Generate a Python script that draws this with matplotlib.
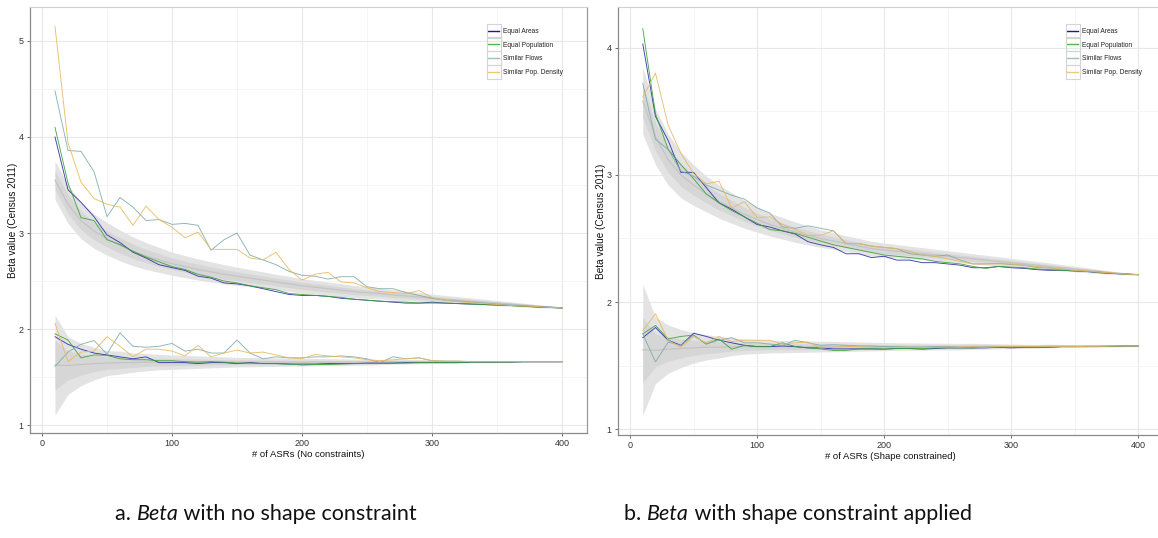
import numpy as np
import matplotlib
matplotlib.use("Agg")
import matplotlib.pyplot as plt
from matplotlib.patches import Rectangle
from matplotlib.ticker import MultipleLocator

plt.rcParams['font.family'] = ['Liberation Sans', 'DejaVu Sans']

# ---------------- data ----------------
n_asrs = list(range(10, 401, 10))
series_names = ["Equal Areas", "Equal Population", "Similar Flows", "Similar Pop. Density"]

# Panel a (no constraints) - upper group
a_up_areas = [4.00, 3.45, 3.32, 3.17, 2.98, 2.90, 2.80, 2.74, 2.67, 2.64,
              2.61, 2.55, 2.53, 2.48, 2.47, 2.45, 2.42, 2.39, 2.36, 2.35,
              2.35, 2.34, 2.32, 2.31, 2.30, 2.29, 2.28, 2.27, 2.27, 2.28,
              2.27, 2.265, 2.26, 2.255, 2.25, 2.245, 2.24, 2.23, 2.225, 2.22]
a_up_pop = [4.10, 3.52, 3.16, 3.13, 2.93, 2.88, 2.81, 2.75, 2.70, 2.65,
            2.62, 2.57, 2.54, 2.50, 2.48, 2.45, 2.43, 2.41, 2.37, 2.36,
            2.35, 2.34, 2.33, 2.31, 2.30, 2.29, 2.285, 2.28, 2.27, 2.27,
            2.27, 2.265, 2.26, 2.255, 2.25, 2.245, 2.235, 2.23, 2.225, 2.22]
a_up_flows = [4.48, 3.86, 3.85, 3.64, 3.17, 3.37, 3.27, 3.13, 3.14, 3.09,
              3.10, 3.08, 2.82, 2.93, 3.00, 2.77, 2.72, 2.67, 2.60, 2.56,
              2.55, 2.52, 2.545, 2.545, 2.44, 2.42, 2.42, 2.38, 2.35, 2.32,
              2.30, 2.29, 2.28, 2.27, 2.26, 2.25, 2.245, 2.235, 2.23, 2.22]
a_up_dens = [5.15, 3.94, 3.53, 3.36, 3.30, 3.27, 3.08, 3.28, 3.14, 3.06,
             2.95, 3.01, 2.83, 2.83, 2.83, 2.74, 2.72, 2.80, 2.62, 2.51,
             2.57, 2.59, 2.49, 2.48, 2.43, 2.39, 2.38, 2.37, 2.40, 2.33,
             2.30, 2.285, 2.275, 2.265, 2.255, 2.245, 2.24, 2.235, 2.225, 2.22]
# Panel a - lower group
a_lo_areas = [1.92, 1.84, 1.79, 1.75, 1.73, 1.71, 1.69, 1.71, 1.65, 1.65,
              1.65, 1.64, 1.65, 1.65, 1.64, 1.65, 1.64, 1.64, 1.635, 1.635,
              1.635, 1.64, 1.64, 1.64, 1.645, 1.645, 1.645, 1.65, 1.65, 1.65,
              1.65, 1.65, 1.655, 1.655, 1.655, 1.655, 1.66, 1.66, 1.66, 1.66]
a_lo_pop = [1.95, 1.885, 1.70, 1.73, 1.725, 1.69, 1.68, 1.68, 1.67, 1.67,
            1.66, 1.655, 1.66, 1.655, 1.645, 1.645, 1.64, 1.64, 1.635, 1.625,
            1.63, 1.63, 1.635, 1.64, 1.64, 1.64, 1.645, 1.645, 1.65, 1.65,
            1.65, 1.65, 1.655, 1.655, 1.655, 1.655, 1.66, 1.66, 1.66, 1.66]
a_lo_flows = [1.61, 1.76, 1.84, 1.88, 1.74, 1.96, 1.82, 1.81, 1.82, 1.85,
              1.77, 1.79, 1.75, 1.75, 1.885, 1.75, 1.69, 1.71, 1.70, 1.70,
              1.71, 1.71, 1.72, 1.71, 1.69, 1.65, 1.71, 1.69, 1.70, 1.67,
              1.665, 1.665, 1.66, 1.66, 1.66, 1.66, 1.66, 1.66, 1.66, 1.66]
a_lo_dens = [2.06, 1.66, 1.76, 1.77, 1.92, 1.82, 1.71, 1.79, 1.79, 1.77,
             1.72, 1.83, 1.71, 1.75, 1.78, 1.75, 1.76, 1.73, 1.70, 1.69,
             1.735, 1.72, 1.71, 1.70, 1.68, 1.67, 1.68, 1.69, 1.70, 1.67,
             1.665, 1.665, 1.66, 1.66, 1.66, 1.66, 1.66, 1.66, 1.66, 1.66]
# Panel a - reference ribbons (centre, half widths)
a_up_mid = [3.55, 3.30, 3.13, 3.02, 2.94, 2.87, 2.81, 2.76, 2.72, 2.68,
            2.65, 2.62, 2.595, 2.57, 2.55, 2.53, 2.51, 2.49, 2.47, 2.45,
            2.435, 2.42, 2.405, 2.39, 2.38, 2.37, 2.355, 2.345, 2.335, 2.32,
            2.31, 2.30, 2.29, 2.28, 2.27, 2.26, 2.25, 2.24, 2.23, 2.22]
a_up_hw = [0.20, 0.20, 0.19, 0.18, 0.17, 0.16, 0.15, 0.14, 0.13, 0.12,
           0.115, 0.11, 0.105, 0.10, 0.095, 0.09, 0.085, 0.08, 0.078, 0.075,
           0.072, 0.07, 0.067, 0.064, 0.06, 0.057, 0.054, 0.05, 0.047, 0.044,
           0.04, 0.037, 0.034, 0.03, 0.027, 0.024, 0.02, 0.016, 0.012, 0.008]
a_lo_mid = [1.625, 1.62, 1.63, 1.64, 1.645, 1.65, 1.65, 1.655, 1.655, 1.655,
            1.655, 1.655, 1.655, 1.655, 1.655, 1.655, 1.655, 1.655, 1.655, 1.655,
            1.655, 1.655, 1.655, 1.655, 1.655, 1.655, 1.66, 1.66, 1.66, 1.66,
            1.66, 1.66, 1.66, 1.66, 1.66, 1.66, 1.66, 1.66, 1.66, 1.66]
a_lo_hw = [0.52, 0.30, 0.22, 0.17, 0.13, 0.12, 0.10, 0.09, 0.08, 0.075,
           0.07, 0.065, 0.06, 0.055, 0.05, 0.048, 0.046, 0.044, 0.042, 0.04,
           0.038, 0.036, 0.034, 0.032, 0.03, 0.028, 0.026, 0.024, 0.022, 0.02,
           0.018, 0.016, 0.014, 0.012, 0.011, 0.01, 0.009, 0.008, 0.007, 0.006]

# Panel b (shape constrained) - upper group
b_up_areas = [4.03, 3.46, 3.27, 3.02, 3.02, 2.90, 2.78, 2.73, 2.67, 2.61,
              2.59, 2.56, 2.535, 2.475, 2.45, 2.43, 2.38, 2.38, 2.35, 2.36,
              2.33, 2.33, 2.31, 2.31, 2.30, 2.29, 2.27, 2.27, 2.28, 2.27,
              2.265, 2.255, 2.25, 2.25, 2.245, 2.24, 2.23, 2.225, 2.22, 2.216]
b_up_pop = [4.15, 3.48, 3.20, 3.08, 2.97, 2.85, 2.78, 2.72, 2.67, 2.62,
            2.57, 2.56, 2.54, 2.51, 2.48, 2.45, 2.43, 2.41, 2.39, 2.37,
            2.36, 2.35, 2.34, 2.32, 2.31, 2.30, 2.28, 2.265, 2.28, 2.275,
            2.27, 2.26, 2.255, 2.25, 2.245, 2.24, 2.235, 2.225, 2.22, 2.216]
b_up_flows = [3.72, 3.28, 3.20, 3.03, 2.99, 2.92, 2.88, 2.84, 2.81, 2.74,
              2.70, 2.59, 2.58, 2.60, 2.58, 2.56, 2.46, 2.46, 2.44, 2.43,
              2.42, 2.38, 2.37, 2.36, 2.37, 2.33, 2.30, 2.30, 2.305, 2.295,
              2.29, 2.273, 2.268, 2.26, 2.247, 2.24, 2.235, 2.227, 2.22, 2.216]
b_up_dens = [3.61, 3.80, 3.39, 3.17, 3.01, 2.93, 2.95, 2.74, 2.79, 2.665,
             2.67, 2.61, 2.57, 2.525, 2.525, 2.56, 2.46, 2.46, 2.44, 2.43,
             2.42, 2.40, 2.37, 2.36, 2.34, 2.32, 2.30, 2.30, 2.30, 2.30,
             2.29, 2.28, 2.27, 2.26, 2.25, 2.245, 2.235, 2.23, 2.22, 2.216]
# Panel b - lower group
b_lo_areas = [1.72, 1.80, 1.70, 1.66, 1.755, 1.73, 1.70, 1.68, 1.66, 1.65,
              1.65, 1.655, 1.65, 1.64, 1.64, 1.632, 1.632, 1.632, 1.632, 1.63,
              1.635, 1.635, 1.63, 1.635, 1.64, 1.64, 1.64, 1.64, 1.645, 1.64,
              1.645, 1.645, 1.645, 1.65, 1.65, 1.65, 1.65, 1.652, 1.655, 1.655]
b_lo_pop = [1.75, 1.816, 1.71, 1.73, 1.74, 1.67, 1.71, 1.63, 1.66, 1.65,
            1.65, 1.68, 1.65, 1.64, 1.632, 1.62, 1.62, 1.632, 1.632, 1.632,
            1.635, 1.635, 1.635, 1.64, 1.64, 1.64, 1.64, 1.645, 1.645, 1.645,
            1.645, 1.65, 1.645, 1.65, 1.65, 1.65, 1.652, 1.652, 1.655, 1.655]
b_lo_flows = [1.75, 1.53, 1.685, 1.66, 1.74, 1.67, 1.70, 1.72, 1.68, 1.68,
              1.67, 1.66, 1.70, 1.68, 1.66, 1.665, 1.66, 1.655, 1.655, 1.65,
              1.65, 1.645, 1.645, 1.65, 1.65, 1.645, 1.645, 1.645, 1.65, 1.65,
              1.65, 1.65, 1.65, 1.65, 1.65, 1.652, 1.652, 1.655, 1.655, 1.655]
b_lo_dens = [1.776, 1.907, 1.70, 1.645, 1.73, 1.68, 1.73, 1.69, 1.70, 1.70,
             1.70, 1.67, 1.68, 1.685, 1.64, 1.645, 1.65, 1.65, 1.645, 1.64,
             1.645, 1.645, 1.64, 1.645, 1.645, 1.645, 1.65, 1.645, 1.65, 1.65,
             1.65, 1.65, 1.65, 1.65, 1.65, 1.652, 1.652, 1.655, 1.655, 1.655]
# Panel b - reference ribbons
b_up_mid = [3.58, 3.30, 3.12, 3.00, 2.92, 2.85, 2.79, 2.74, 2.69, 2.65,
            2.61, 2.58, 2.55, 2.525, 2.50, 2.48, 2.46, 2.44, 2.42, 2.41,
            2.40, 2.39, 2.38, 2.37, 2.36, 2.35, 2.34, 2.33, 2.32, 2.31,
            2.30, 2.29, 2.28, 2.27, 2.26, 2.25, 2.24, 2.23, 2.222, 2.216]
b_up_hw = [0.26, 0.22, 0.20, 0.18, 0.16, 0.14, 0.13, 0.12, 0.11, 0.10,
           0.09, 0.085, 0.08, 0.075, 0.07, 0.065, 0.062, 0.06, 0.058, 0.055,
           0.052, 0.05, 0.048, 0.046, 0.044, 0.042, 0.04, 0.038, 0.036, 0.034,
           0.032, 0.03, 0.028, 0.025, 0.022, 0.02, 0.016, 0.012, 0.008, 0.005]
b_lo_mid = [1.625, 1.62, 1.63, 1.635, 1.64, 1.645, 1.645, 1.65, 1.65, 1.65,
            1.65, 1.65, 1.65, 1.65, 1.65, 1.65, 1.65, 1.65, 1.65, 1.65,
            1.65, 1.65, 1.65, 1.65, 1.65, 1.65, 1.652, 1.652, 1.652, 1.652,
            1.652, 1.652, 1.655, 1.655, 1.655, 1.655, 1.655, 1.655, 1.655, 1.655]
b_lo_hw = [0.515, 0.26, 0.19, 0.15, 0.12, 0.10, 0.085, 0.07, 0.06, 0.055,
           0.05, 0.048, 0.046, 0.044, 0.042, 0.04, 0.038, 0.036, 0.034, 0.032,
           0.03, 0.029, 0.028, 0.027, 0.026, 0.025, 0.024, 0.022, 0.02, 0.018,
           0.016, 0.015, 0.014, 0.012, 0.011, 0.01, 0.009, 0.008, 0.007, 0.005]

x_labels = ["# of ASRs (No constraints)", "# of ASRs (Shape constrained)"]
y_label = "Beta value (Census 2011)"
captions = [("a. ", "Beta", " with no shape constraint"),
            ("b. ", "Beta", " with shape constraint applied")]

# ---------------- style ----------------
line_colors = ["#2a2aa8", "#38a238", "#80aaac", "#e8b95c"]
legend_colors = ["#1c1c80", "#4db84d", "#9fc0c2", "#eec878"]

W, H = 1158, 538
fig = plt.figure(figsize=(W / 100, H / 100), dpi=100)
fig.patch.set_facecolor("white")

axes_px = [(29.65, 7, 557.7, 426), (618.0, 7, 545.0, 428)]
ylims = [(0.917, 5.354), (0.955, 4.32)]

panels = [
    dict(up=[a_up_areas, a_up_pop, a_up_flows, a_up_dens],
         lo=[a_lo_areas, a_lo_pop, a_lo_flows, a_lo_dens],
         ribbons=[(a_up_mid, a_up_hw), (a_lo_mid, a_lo_hw)], yt=[1, 2, 3, 4, 5]),
    dict(up=[b_up_areas, b_up_pop, b_up_flows, b_up_dens],
         lo=[b_lo_areas, b_lo_pop, b_lo_flows, b_lo_dens],
         ribbons=[(b_up_mid, b_up_hw), (b_lo_mid, b_lo_hw)], yt=[1, 2, 3, 4]),
]

x = np.array(n_asrs)
legs = []
axs = []
for i, (p, (l, t, w, h)) in enumerate(zip(panels, axes_px)):
    ax = fig.add_axes([l / W, (H - t - h) / H, w / W, h / H])
    axs.append(ax)
    ax.set_facecolor("white")
    ax.set_xlim(-9.5, 419.5)
    ax.set_ylim(*ylims[i])
    ax.xaxis.set_major_locator(MultipleLocator(100))
    ax.xaxis.set_minor_locator(MultipleLocator(50))
    ax.set_yticks(p["yt"])
    ax.yaxis.set_minor_locator(MultipleLocator(0.5))
    ax.grid(which="major", color="#e8e8e8", linewidth=0.8, zorder=0)
    ax.grid(which="minor", color="#f4f4f4", linewidth=0.6, zorder=0)
    ax.set_axisbelow(True)
    ax.tick_params(which="minor", length=0)
    ax.tick_params(which="major", length=2.5, width=0.6, color="#555555",
                   labelsize=6.5, labelcolor="#333333", pad=2)
    for s in ["left", "bottom"]:
        ax.spines[s].set_color("#8a8a8a")
        ax.spines[s].set_linewidth(0.9)
    ax.spines["top"].set_color("#d0d0d0")
    ax.spines["right"].set_color("#9a9a9a")
    ax.spines["top"].set_linewidth(0.8)
    ax.spines["right"].set_linewidth(0.9)

    for mid, hw in p["ribbons"]:
        mid = np.array(mid); hw = np.array(hw)
        ax.fill_between(x, mid - hw, mid + hw, color="#e3e3e3", lw=0, zorder=1)
        ax.fill_between(x, mid - hw * 0.5, mid + hw * 0.5, color="#d6d6d6", lw=0, zorder=1.1)
        ax.plot(x, mid, color="#c4c4c4", lw=0.9, zorder=1.2)

    for k in range(4):
        ax.plot(x, p["lo"][k], color=line_colors[k], lw=0.65, alpha=0.9, zorder=2 + k * 0.1)
        ax.plot(x, p["up"][k], color=line_colors[k], lw=0.65, alpha=0.9, zorder=2 + k * 0.1,
                label=series_names[k])

    ax.set_xlabel(x_labels[i], fontsize=6.8, color="#111111", labelpad=1.5)
    ax.set_ylabel(y_label, fontsize=7.2, color="#111111", labelpad=0.5)

    # legend
    handles = [plt.Line2D([], [], color=c, lw=1.0) for c in legend_colors]
    anchor_x = (488 - l) / w
    leg = ax.legend(handles, series_names, loc="upper left",
                    bbox_to_anchor=(anchor_x, 1 - (28 - t) / h), frameon=False,
                    fontsize=4.8, handlelength=1.7, handletextpad=0.5,
                    labelspacing=1.0, borderpad=0, borderaxespad=0)
    if i == 1:
        leg.set_bbox_to_anchor(((1067 - l) / w, 1 - (28 - t) / h), transform=ax.transAxes)
    for txt in leg.get_texts():
        txt.set_color("#222222")
    legs.append(leg)

# captions
cap_y = H - 514
cap_centers = [266, 798]
fig.canvas.draw()
renderer = fig.canvas.get_renderer()
for (pre, it, post), cx in zip(captions, cap_centers):
    kw = dict(fontsize=15.5, family=["Lato", "DejaVu Sans"], color="#111111", va="center")
    t1 = fig.text(0, cap_y / H, pre, **kw)
    t2 = fig.text(0, cap_y / H, it, style="italic", **kw)
    t3 = fig.text(0, cap_y / H, post, **kw)
    ws = [tt.get_window_extent(renderer).width for tt in (t1, t2, t3)]
    total = sum(ws)
    x0 = cx - total / 2
    for tt, wd in zip((t1, t2, t3), ws):
        tt.set_x(x0 / W)
        x0 += wd

# key boxes in legends
fig.canvas.draw()
for leg in legs:
    for hdl in leg.legend_handles:
        bb = hdl.get_window_extent(renderer)
        cxp = (bb.x0 + bb.x1) / 2
        cyp = (bb.y0 + bb.y1) / 2
        bw = bb.width + 3
        bh = 14
        rect = Rectangle((cxp - bw / 2, cyp - bh / 2), bw, bh, transform=None,
                         facecolor="none", edgecolor="#d4d4d4", lw=0.8, zorder=10)
        fig.patches.append(rect)

fig.savefig("out.png", dpi=100, facecolor="white")
